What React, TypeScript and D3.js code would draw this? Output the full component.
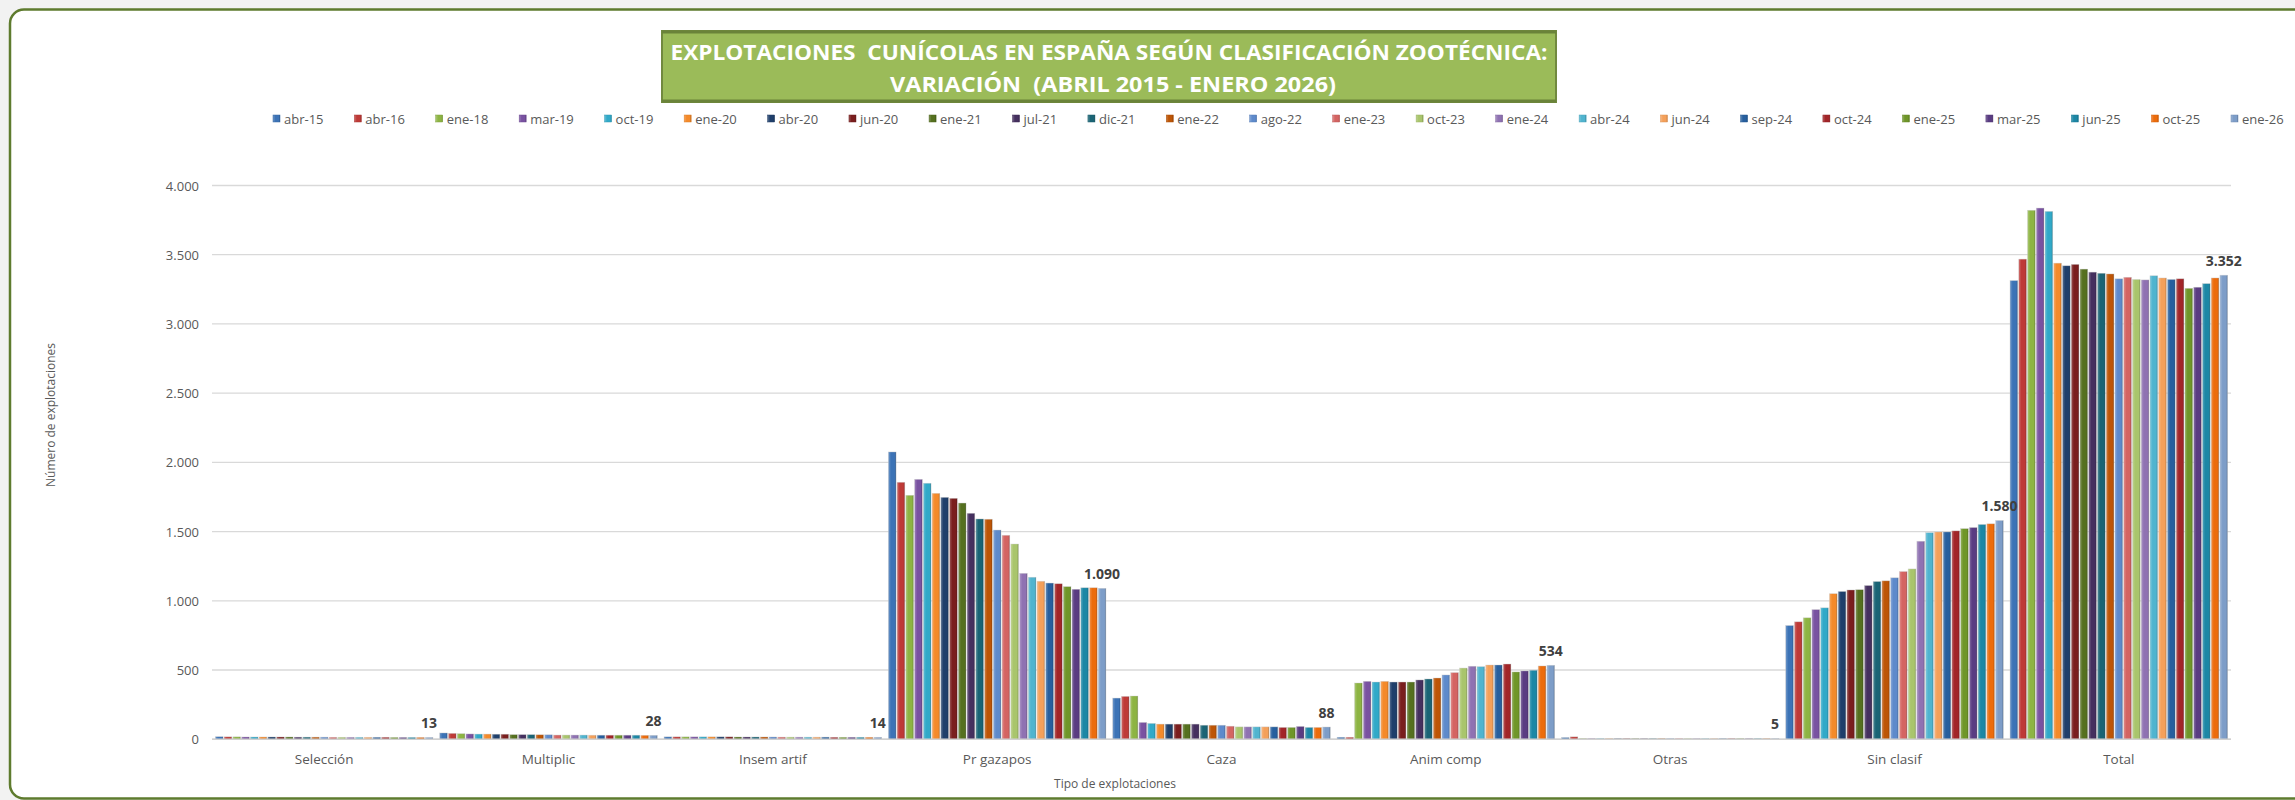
import React, { useMemo } from "react";
import * as d3 from "d3";

const categories = ["Selección", "Multiplic", "Insem artif", "Pr gazapos", "Caza", "Anim comp", "Otras", "Sin clasif", "Total"];

const seriesNames = ["abr-15", "abr-16", "ene-18", "mar-19", "oct-19", "ene-20", "abr-20", "jun-20", "ene-21", "jul-21", "dic-21", "ene-22", "ago-22", "ene-23", "oct-23", "ene-24", "abr-24", "jun-24", "sep-24", "oct-24", "ene-25", "mar-25", "jun-25", "oct-25", "ene-26"];

const seriesColors = ["#3C73B6", "#BE3A37", "#8DB443", "#7952A1", "#31A9C8", "#F48A2A", "#1F3F6B", "#7A1E1E", "#55701F", "#45305F", "#1A6475", "#BD5506", "#5E8ACB", "#D46462", "#A9C56C", "#8F72B2", "#50B4CF", "#F4A05A", "#275F9E", "#A22528", "#6F9629", "#5A3C82", "#1C87A5", "#EC6C0C", "#7D9DC8"];

// values per category, one value per series (abr-15 ... ene-26)
const seleccion = [18, 17, 17, 16, 16, 16, 16, 16, 16, 15, 15, 15, 15, 14, 14, 14, 14, 14, 14, 14, 13, 13, 13, 13, 13];
const multiplic = [45, 42, 40, 38, 37, 37, 36, 36, 33, 33, 33, 32, 32, 30, 30, 30, 30, 29, 29, 29, 29, 29, 29, 28, 28];
const insemArtif = [17, 17, 17, 17, 17, 17, 17, 17, 16, 16, 16, 16, 16, 15, 15, 15, 15, 15, 15, 14, 14, 14, 14, 14, 14];
const prGazapos = [2075, 1856, 1762, 1877, 1849, 1776, 1747, 1740, 1706, 1632, 1591, 1589, 1511, 1473, 1410, 1198, 1170, 1141, 1128, 1123, 1102, 1083, 1094, 1094, 1090];
const caza = [297, 309, 312, 121, 114, 109, 109, 109, 109, 109, 101, 101, 101, 94, 89, 89, 89, 89, 89, 85, 85, 92, 85, 85, 88];
const animComp = [14, 14, 406, 418, 413, 418, 413, 413, 413, 428, 435, 442, 464, 481, 514, 527, 524, 536, 536, 543, 486, 493, 498, 529, 534];
const otras = [12, 17, 5, 5, 5, 5, 5, 5, 5, 5, 5, 5, 5, 5, 5, 5, 5, 5, 5, 5, 5, 5, 5, 5, 5];
const sinClasif = [821, 848, 877, 936, 949, 1051, 1067, 1078, 1080, 1110, 1139, 1144, 1166, 1211, 1230, 1430, 1492, 1497, 1497, 1505, 1521, 1529, 1551, 1556, 1580];
const total = [3313, 3468, 3821, 3837, 3813, 3439, 3420, 3430, 3396, 3374, 3366, 3361, 3326, 3337, 3321, 3318, 3348, 3332, 3321, 3326, 3257, 3265, 3291, 3332, 3352];

const categoryValues = [seleccion, multiplic, insemArtif, prGazapos, caza, animComp, otras, sinClasif, total];

const yTicks = [0, 500, 1000, 1500, 2000, 2500, 3000, 3500, 4000];
const labelSeries = "ene-26";

const titleLines = ["EXPLOTACIONES  CUNÍCOLAS EN ESPAÑA SEGÚN CLASIFICACIÓN ZOOTÉCNICA:", "VARIACIÓN  (ABRIL 2015 - ENERO 2026)"];
const yTitle = "Número de explotaciones";
const xTitle = "Tipo de explotaciones";

const FONT = "'Open Sans', 'Noto Sans', sans-serif";
const W = 2295;
const H = 800;

const esLocale = d3.formatLocale({ decimal: ",", thousands: ".", grouping: [3], currency: ["", " €"] });
const fmt = esLocale.format(",d");

function measure(text: string, font: string): number {
  const c = document.createElement("canvas");
  const ctx = c.getContext("2d");
  if (!ctx) return text.length * 7;
  ctx.font = font;
  return ctx.measureText(text).width;
}

export default function App() {
  const plotLeft = 212;
  const plotRight = 2231;
  const plotTop = 185.5;
  const plotBottom = 739.2;

  const y = d3.scaleLinear().domain([0, 4000]).range([plotBottom, plotTop]);
  const x0 = d3.scaleBand<string>().domain(categories).range([plotLeft, plotRight]).paddingInner(0.03).paddingOuter(0.015);
  const x1 = d3.scaleBand<string>().domain(seriesNames).range([0, x0.bandwidth()]).paddingInner(0.12);

  const legend = useMemo(() => {
    const markerW = 7;
    const pad = 4;
    const font = `13px ${FONT}`;
    const widths = seriesNames.map((s) => measure(s, font));
    const first = 273;
    const last = 2231;
    let used = 0;
    for (let i = 0; i < seriesNames.length - 1; i++) used += markerW + pad + widths[i];
    const gap = (last - first - used) / (seriesNames.length - 1);
    let x = first;
    return seriesNames.map((s, i) => {
      const item = { name: s, x, color: seriesColors[i] };
      x += markerW + pad + widths[i] + gap;
      return item;
    });
  }, []);

  const lighten = (c: string, k: number) => d3.interpolateRgb(c, "#ffffff")(k);
  const darken = (c: string, k: number) => d3.interpolateRgb(c, "#000000")(k);

  const lastIdx = seriesNames.indexOf(labelSeries);

  const frameTop = 9.5;
  const frameBottom = 798.5;
  const frameLeft = 10;
  const r = 14;
  const framePath = `M ${W + 20} ${frameTop} H ${frameLeft + r} A ${r} ${r} 0 0 0 ${frameLeft} ${frameTop + r} V ${frameBottom - r} A ${r} ${r} 0 0 0 ${frameLeft + r} ${frameBottom} H ${W + 20}`;

  return (
    <svg width={W} height={H} style={{ position: "absolute", left: 0, top: 0, display: "block", overflow: "hidden" }} xmlns="http://www.w3.org/2000/svg">
      <defs>
        {seriesColors.map((c, i) => (
          <linearGradient key={i} id={`g${i}`} x1="0" x2="1" y1="0" y2="0">
            <stop offset="0" stopColor={lighten(c, 0.25)} />
            <stop offset="0.35" stopColor={c} />
            <stop offset="0.8" stopColor={c} />
            <stop offset="1" stopColor={darken(c, 0.25)} />
          </linearGradient>
        ))}
      </defs>
      <rect x={0} y={0} width={W} height={H} fill="#F2F2F2" />
      <path d={framePath} fill="#FFFFFF" stroke="#5E7B2E" strokeWidth={2.5} />

      {/* title */}
      <rect x={662} y={31} width={894} height={71} fill="#9BBB59" stroke="#71893F" strokeWidth={2} />
      <line x1={662} x2={1556} y1={32} y2={32} stroke="#6A8339" strokeWidth={3} />
      <line x1={662} x2={1556} y1={101} y2={101} stroke="#6A8339" strokeWidth={3} />
      <text x={1109} y={52} textAnchor="middle" dominantBaseline="central" fill="#FFFFFF" fontFamily={FONT} fontWeight="bold" fontSize={21} textLength={877} lengthAdjust="spacingAndGlyphs" style={{ whiteSpace: "pre" }}>{titleLines[0]}</text>
      <text x={1113} y={84} textAnchor="middle" dominantBaseline="central" fill="#FFFFFF" fontFamily={FONT} fontWeight="bold" fontSize={21} textLength={446} lengthAdjust="spacingAndGlyphs" style={{ whiteSpace: "pre" }}>{titleLines[1]}</text>

      {/* legend */}
      {legend.map((l, i) => (
        <g key={l.name}>
          <rect x={l.x} y={115} width={7} height={7} fill={`url(#g${i})`} stroke={darken(l.color, 0.1)} strokeWidth={0.5} />
          <text x={l.x + 11} y={119} dominantBaseline="central" fontFamily={FONT} fontSize={13} fill="#595959">{l.name}</text>
        </g>
      ))}

      {/* gridlines & y axis */}
      {yTicks.map((t) => (
        <g key={t}>
          <line x1={plotLeft} x2={plotRight} y1={y(t)} y2={y(t)} stroke="#D9D9D9" strokeWidth={1.3} />
          <text x={199} y={y(t)} textAnchor="end" dominantBaseline="central" fontFamily={FONT} fontSize={13} fill="#595959">{fmt(t)}</text>
        </g>
      ))}

      {/* bars */}
      {categories.map((cat, ci) => (
        <g key={cat} transform={`translate(${x0(cat)},0)`}>
          {seriesNames.map((s, si) => {
            const v = categoryValues[ci][si];
            const top = y(v);
            return (
              <rect key={s} x={x1(s)} y={top} width={x1.bandwidth()} height={plotBottom - top} fill={`url(#g${si})`} stroke="rgba(200,200,200,0.6)" strokeWidth={0.6} />
            );
          })}
        </g>
      ))}

      <line x1={plotLeft} x2={plotRight} y1={plotBottom} y2={plotBottom} stroke="#D0D0D0" strokeWidth={1.5} />

      {/* data labels for last series */}
      {categories.map((cat, ci) => {
        const v = categoryValues[ci][lastIdx];
        const cx = (x0(cat) as number) + (x1(labelSeries) as number) + x1.bandwidth() / 2;
        return (
          <text key={cat} x={cx} y={y(v) - 15} textAnchor="middle" dominantBaseline="central" fontFamily={FONT} fontWeight="bold" fontSize={14} fill="#404040">{fmt(v)}</text>
        );
      })}

      {/* category labels */}
      {categories.map((cat) => (
        <text key={cat} x={(x0(cat) as number) + x0.bandwidth() / 2} y={759} textAnchor="middle" dominantBaseline="central" fontFamily={FONT} fontSize={13.5} fill="#595959">{cat}</text>
      ))}

      <text x={1115} y={783} textAnchor="middle" dominantBaseline="central" fontFamily={FONT} fontSize={12} fill="#595959">{xTitle}</text>
      <text transform={`translate(50,415) rotate(-90)`} textAnchor="middle" dominantBaseline="central" fontFamily={FONT} fontSize={12} fill="#595959">{yTitle}</text>
    </svg>
  );
}
